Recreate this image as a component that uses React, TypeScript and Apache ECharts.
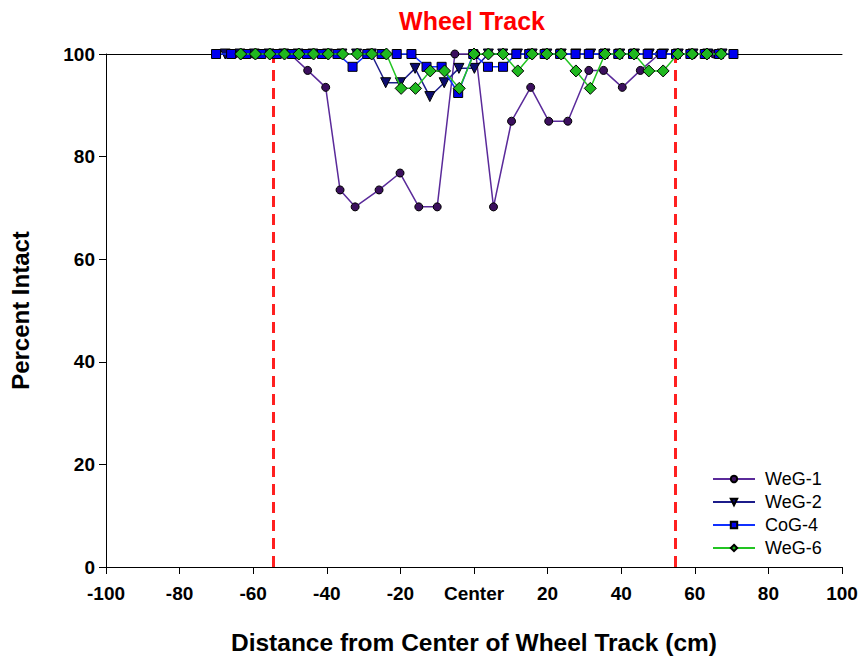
import React, { useEffect, useRef } from "react";
import * as echarts from "echarts";

// Distance from the centre of the wheel track (cm) and percent intact per specimen
const weg1X = [-65, -60, -55, -50, -45.2, -40.3, -36.4, -32.3, -25.8, -20.1, -15.0, -10.0, -5.2, 0.5, 5.3, 10.2, 15.4, 20.3, 25.5, 31.2, 35.2, 40.3, 45.2, 50.4, 55.0, 59.7, 65.2];
const weg1Y = [100, 100, 100, 100, 96.8, 93.5, 73.5, 70.2, 73.5, 76.8, 70.2, 70.2, 100, 100, 70.2, 86.9, 93.5, 86.9, 86.9, 96.8, 96.8, 93.5, 96.8, 100, 100, 100, 100];

const weg2X = [-67.6, -63.6, -59.7, -55.7, -51.7, -47.8, -43.8, -39.8, -35.9, -31.9, -27.9, -24.0, -20.0, -16.0, -12.0, -8.1, -4.1, 0.1, 3.9, 7.8, 11.8, 15.8, 19.8, 23.7, 27.7, 31.7, 35.6, 39.6, 43.6, 47.6, 51.5, 55.5, 59.5, 63.5, 67.4];
const weg2Y = [100, 100, 100, 100, 100, 100, 100, 100, 100, 100, 100, 94.4, 94.4, 97.2, 91.7, 94.4, 97.2, 97.2, 100, 100, 100, 100, 100, 100, 100, 100, 100, 100, 100, 100, 100, 100, 100, 100, 100];

const cog4X = [-70.1, -66.0, -61.9, -57.8, -53.6, -49.5, -45.4, -41.3, -37.1, -33.0, -29.0, -25.1, -21.0, -17.0, -12.9, -8.8, -4.3, -0.2, 3.8, 7.9, 11.5, 15.0, 19.2, 23.4, 27.6, 31.2, 35.2, 39.2, 43.2, 47.2, 51.0, 54.9, 58.8, 62.7, 66.6, 70.5];
const cog4Y = [100, 100, 100, 100, 100, 100, 100, 100, 100, 97.5, 100, 100, 100, 100, 97.5, 97.5, 92.4, 100, 97.5, 97.5, 100, 100, 100, 100, 100, 100, 100, 100, 100, 100, 100, 100, 100, 100, 100, 100];

const weg6X = [-63.4, -59.4, -55.5, -51.5, -47.6, -43.6, -39.6, -35.7, -31.7, -27.8, -23.8, -19.8, -15.9, -11.9, -8.0, -4.0, 0.0, 3.9, 7.9, 11.9, 15.8, 19.8, 23.7, 27.7, 31.6, 35.6, 39.6, 43.5, 47.5, 51.4, 55.4, 59.3, 63.3, 67.2];
const weg6Y = [100, 100, 100, 100, 100, 100, 100, 100, 100, 100, 100, 93.3, 93.3, 96.7, 96.7, 93.3, 100, 100, 100, 96.7, 100, 100, 100, 96.7, 93.3, 100, 100, 100, 96.7, 96.7, 100, 100, 100, 100];

// Edges of the wheel track
const trackEdges = [-54.6, 54.6];

const xTicks = [-100, -80, -60, -40, -20, 0, 20, 40, 60, 80, 100];
const yTicks = [0, 20, 40, 60, 80, 100];

const FONT = "Liberation Sans, Arial, Helvetica, sans-serif";

const pairs = (xs: number[], ys: number[]) => xs.map((x, i) => [x, ys[i]]);

export default function App() {
  const ref = useRef<HTMLDivElement>(null);

  useEffect(() => {
    if (!ref.current) return;
    const chart = echarts.init(ref.current, null, { renderer: "svg" });

    const seriesDef = (
      name: string,
      xs: number[],
      ys: number[],
      lineColor: string,
      fill: string,
      symbol: string,
      size: number,
      rotate: number,
      z: number
    ) => ({
      name,
      type: "line",
      data: pairs(xs, ys),
      symbol,
      symbolSize: size,
      symbolRotate: rotate,
      showAllSymbol: true,
      clip: false,
      z,
      lineStyle: { color: lineColor, width: 1.5 },
      itemStyle: { color: fill, borderColor: "#000", borderWidth: 1 },
    });

    chart.setOption({
      animation: false,
      backgroundColor: "#fff",
      title: {
        text: "Wheel Track",
        left: 467,
        textAlign: "center",
        top: 3,
        textStyle: { color: "#ff0000", fontSize: 25, fontWeight: "bold", fontFamily: FONT },
      },
      grid: { left: 106, right: 19, top: 54, bottom: 90 },
      legend: {
        orient: "vertical",
        left: 707,
        top: 465,
        itemWidth: 42,
        itemHeight: 8,
        itemGap: 5,
        textStyle: { fontSize: 18, fontFamily: FONT, color: "#000", padding: [0, 0, 0, 5] },
        data: ["WeG-1", "WeG-2", "CoG-4", "WeG-6"],
      },
      xAxis: [
        {
          type: "value",
          min: xTicks[0],
          max: xTicks[xTicks.length - 1],
          interval: 20,
          name: "Distance from Center of Wheel Track (cm)",
          nameLocation: "middle",
          nameGap: 63,
          nameTextStyle: { fontSize: 24.5, fontWeight: "bold", fontFamily: FONT, color: "#000" },
          axisLine: { show: true, onZero: false, lineStyle: { color: "#000", width: 1 } },
          axisTick: { show: true, inside: false, length: 7, lineStyle: { color: "#000" } },
          axisLabel: {
            margin: 17,
            fontSize: 19,
            fontWeight: "bold",
            fontFamily: FONT,
            color: "#000",
            formatter: (v: number) => (v === 0 ? "Center" : String(v)),
          },
          splitLine: { show: false },
        },
        {
          type: "value",
          position: "top",
          min: xTicks[0],
          max: xTicks[xTicks.length - 1],
          axisLine: { show: true, onZero: false, lineStyle: { color: "#000", width: 1 } },
          axisTick: { show: false },
          axisLabel: { show: false },
          splitLine: { show: false },
        },
      ],
      yAxis: {
        type: "value",
        min: yTicks[0],
        max: yTicks[yTicks.length - 1],
        interval: 20,
        name: "Percent Intact",
        nameLocation: "middle",
        nameGap: 74,
        nameTextStyle: { fontSize: 24, fontWeight: "bold", fontFamily: FONT, color: "#000" },
        axisLine: { show: true, onZero: false, lineStyle: { color: "#000", width: 1 } },
        axisTick: { show: true, inside: false, length: 7, lineStyle: { color: "#000" } },
        axisLabel: { margin: 11, fontSize: 19, fontWeight: "bold", fontFamily: FONT, color: "#000" },
        splitLine: { show: false },
      },
      series: [
        {
          ...seriesDef("WeG-1", weg1X, weg1Y, "#5a2a9a", "#3b0f5e", "circle", 8, 0, 3),
          markLine: {
            silent: true,
            symbol: "none",
            label: { show: false },
            lineStyle: { color: "#ff2020", type: [11, 7], width: 3 },
            data: trackEdges.map((x) => ({ xAxis: x })),
          },
        },
        seriesDef("WeG-2", weg2X, weg2Y, "#1c1c8a", "#0c0c70", "triangle", 10, 180, 4),
        seriesDef("CoG-4", cog4X, cog4Y, "#1030ff", "#0000ee", "rect", 9, 0, 5),
        seriesDef("WeG-6", weg6X, weg6Y, "#22c422", "#1fb81f", "diamond", 12, 0, 6),
      ],
    });

    return () => chart.dispose();
  }, []);

  return (
    <div
      ref={ref}
      style={{ position: "absolute", left: 0, top: 0, width: 861, height: 660 }}
    />
  );
}
